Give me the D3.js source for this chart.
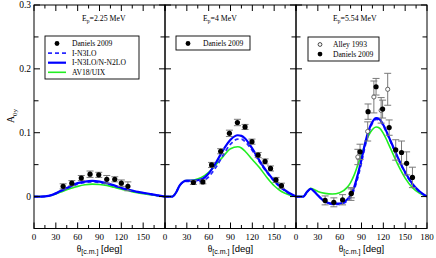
<!DOCTYPE html>
<html><head><meta charset="utf-8">
<script src="https://cdn.jsdelivr.net/npm/d3@7"></script>
<style>body{margin:0;background:#fff}svg{display:block}</style>
</head><body><svg id="c" width="436" height="258"></svg>
<script>
// ---------- data ----------
const energies = ["2.25", "4", "5.54"];
const xMajor = [0, 30, 60, 90, 120, 150, 180];
const xMinor = [15, 45, 75, 105, 135, 165];
const yMajor = [0, 0.1, 0.2, 0.3];
const yMinor = [-0.05, 0.05, 0.15, 0.25];
const yTickLabels = ["0", "0.1", "0.2", "0.3"];

// panel 1 (Ep = 2.25 MeV)
const grid1 = [0,10,20,30,40,50,60,70,80,90,100,110,120,130,140,150,160,170,180];
const blue1 = [0,0,0.001,0.005,0.011,0.016,0.021,0.0235,0.0245,0.0235,0.021,0.0175,0.0135,0.0105,0.008,0.006,0.004,0.002,0];
const dash1 = [0,0,0.001,0.005,0.010,0.015,0.0195,0.022,0.023,0.022,0.020,0.017,0.013,0.010,0.0075,0.0055,0.0035,0.0015,0];
const green1 = [0,0,0.001,0.004,0.0085,0.0125,0.016,0.0185,0.0195,0.019,0.0175,0.0145,0.0115,0.009,0.0065,0.0045,0.003,0.0015,0];
const danAng1 = [40,52,65,77,89,100,111,120,129];
const danVal1 = [0.016,0.021,0.029,0.035,0.034,0.027,0.027,0.021,0.016];
const danErr1 = [0.004,0.004,0.004,0.005,0.004,0.006,0.004,0.005,0.007];

// panel 2 (Ep = 4 MeV)
const grid2 = [0,10,15,20,25,30,35,40,50,60,70,80,90,100,105,110,120,130,140,150,160,170,180];
const blue2 = [0,0,0.006,0.017,0.023,0.025,0.025,0.025,0.027,0.036,0.053,0.073,0.089,0.096,0.095,0.091,0.075,0.056,0.039,0.025,0.014,0.006,0];
const dash2 = [0,0,0.006,0.017,0.023,0.024,0.024,0.023,0.024,0.031,0.046,0.065,0.082,0.090,0.090,0.086,0.072,0.054,0.038,0.024,0.013,0.005,0];
const green2 = [0,0,0.006,0.017,0.023,0.025,0.025,0.026,0.030,0.038,0.050,0.063,0.075,0.078,0.076,0.071,0.058,0.045,0.030,0.017,0.008,0.003,0];
const danAng2 = [39,52,64,76.5,88.5,99.5,110,119.5,128,137.5,145,152.5,160];
const danVal2 = [0.022,0.023,0.0495,0.071,0.099,0.116,0.109,0.086,0.065,0.055,0.044,0.026,0.017];
const danErr2 = [0.003,0.003,0.004,0.004,0.005,0.005,0.004,0.004,0.004,0.004,0.004,0.004,0.004];

// panel 3 (Ep = 5.54 MeV)
const grid3 = [0,10,15,20,25,30,40,50,60,70,75,80,85,90,95,100,105,110,115,120,130,140,150,160,170,180];
const blue3 = [0,0,0.007,0.012,0.008,0.002,-0.008,-0.011,-0.011,-0.005,0.002,0.015,0.035,0.058,0.084,0.104,0.117,0.123,0.121,0.112,0.087,0.061,0.038,0.020,0.008,0];
const dash3 = [0,0,0.007,0.012,0.008,0.002,-0.008,-0.012,-0.012,-0.007,-0.001,0.011,0.030,0.053,0.079,0.100,0.115,0.121,0.120,0.111,0.086,0.060,0.037,0.019,0.007,0];
const green3 = [0,0,0.007,0.013,0.011,0.008,0.005,0.004,0.006,0.014,0.022,0.034,0.050,0.066,0.082,0.096,0.105,0.109,0.107,0.099,0.075,0.050,0.029,0.014,0.005,0];
const danAng3 = [40,52,64,76,88,99,110,119,128,137,145,152,160];
const danVal3 = [-0.006,-0.009,-0.005,0.005,0.070,0.133,0.172,0.137,0.108,0.073,0.069,0.052,0.030];
const danErr3 = [0.007,0.007,0.008,0.007,0.012,0.012,0.013,0.014,0.012,0.016,0.018,0.018,0.016];
const alAng3 = [75.5,85,98.5,107,117,126];
const alVal3 = [0.004,0.062,0.102,0.156,0.135,0.168];
const alErr3 = [0.010,0.012,0.015,0.025,0.020,0.025];

// legends
const legend1 = ["Daniels 2009", "I-N3LO", "I-N3LO/N-N2LO", "AV18/UIX"];
const legend2 = ["Daniels 2009"];
const legend3 = ["Alley 1993", "Daniels 2009"];

// ---------- layout / style ----------
const W = 436, H = 258;
const panelLeft = [34, 165, 296], panelW = 131, plotTop = 5, plotBottom = 228.5;
const C_BLUE = "#0000ff", C_DASH = "#2a2aff", C_GREEN = "#22ee22", C_ERR = "#7a7a7a";
const serif = "'Liberation Serif','Times New Roman',serif";
const sans = "'Liberation Sans',Arial,sans-serif";

const svg = d3.select("#c");
svg.append("rect").attr("width", W).attr("height", H).attr("fill", "#fff");

const y = d3.scaleLinear().domain([-0.05, 0.3]).range([plotBottom, plotTop]);

const panels = [
  {grid: grid1, curves: [[green1, C_GREEN, null, 1.6], [dash1, C_DASH, "4,3", 1.8], [blue1, C_BLUE, null, 2.2]],
   dan: [danAng1, danVal1, danErr1], al: null, title: energies[0], titleDx: 48,
   legend: legend1, legBox: [11, 36, 94, 43]},
  {grid: grid2, curves: [[green2, C_GREEN, null, 1.6], [dash2, C_DASH, "4,3", 1.8], [blue2, C_BLUE, null, 2.2]],
   dan: [danAng2, danVal2, danErr2], al: null, title: energies[1], titleDx: 38,
   legend: legend2, legBox: [11, 36, 74, 14]},
  {grid: grid3, curves: [[green3, C_GREEN, null, 1.6], [dash3, C_DASH, "4,3", 1.8], [blue3, C_BLUE, null, 2.2]],
   dan: [danAng3, danVal3, danErr3], al: [alAng3, alVal3, alErr3], title: energies[2], titleDx: 37,
   legend: legend3, legBox: [12, 37, 71, 24]}
];

panels.forEach((p, i) => {
  const L = panelLeft[i];
  const x = d3.scaleLinear().domain([0, 180]).range([L, L + panelW]);
  const g = svg.append("g");
  const clipId = "clip" + i;
  svg.append("clipPath").attr("id", clipId).append("rect")
    .attr("x", L).attr("y", plotTop).attr("width", panelW).attr("height", plotBottom - plotTop);

  const pg = g.append("g").attr("clip-path", `url(#${clipId})`);
  p.curves.forEach(([vals, col, dash, w]) => {
    const line = d3.line().x((d, k) => x(p.grid[k])).y(d => y(d)).curve(d3.curveMonotoneX);
    pg.append("path").attr("d", line(vals)).attr("fill", "none")
      .attr("stroke", col).attr("stroke-width", w).attr("stroke-dasharray", dash);
  });

  const drawSet = (set, filled) => {
    const [ang, val, err] = set;
    ang.forEach((a, k) => {
      const cx = x(a), y1 = y(val[k] + err[k]), y2 = y(val[k] - err[k]);
      pg.append("line").attr("x1", cx).attr("x2", cx).attr("y1", y1).attr("y2", y2)
        .attr("stroke", C_ERR).attr("stroke-width", 1);
      [y1, y2].forEach(yy => pg.append("line").attr("x1", cx - 3.5).attr("x2", cx + 3.5)
        .attr("y1", yy).attr("y2", yy).attr("stroke", C_ERR).attr("stroke-width", 1));
    });
    ang.forEach((a, k) => {
      pg.append("circle").attr("cx", x(a)).attr("cy", y(val[k]))
        .attr("r", filled ? 2.6 : 2.1)
        .attr("fill", filled ? "#000" : "#fff")
        .attr("stroke", filled ? "#000" : "#555").attr("stroke-width", filled ? 0 : 0.9);
    });
  };
  if (p.al) drawSet(p.al, false);
  drawSet(p.dan, true);

  g.append("rect").attr("x", L).attr("y", plotTop).attr("width", panelW).attr("height", plotBottom - plotTop)
    .attr("fill", "none").attr("stroke", "#000").attr("stroke-width", 1);

  const tk = g.append("g").attr("stroke", "#000").attr("stroke-width", 1);
  xMajor.forEach(v => {
    tk.append("line").attr("x1", x(v)).attr("x2", x(v)).attr("y1", plotBottom).attr("y2", plotBottom - 6);
    tk.append("line").attr("x1", x(v)).attr("x2", x(v)).attr("y1", plotTop).attr("y2", plotTop + 6);
  });
  xMinor.forEach(v => {
    tk.append("line").attr("x1", x(v)).attr("x2", x(v)).attr("y1", plotBottom).attr("y2", plotBottom - 3.5);
    tk.append("line").attr("x1", x(v)).attr("x2", x(v)).attr("y1", plotTop).attr("y2", plotTop + 3.5);
  });
  yMajor.concat(yMinor).forEach((v, k) => {
    const len = k < yMajor.length ? 6 : 4.5;
    tk.append("line").attr("x1", L).attr("x2", L + len).attr("y1", y(v)).attr("y2", y(v));
    tk.append("line").attr("x1", L + panelW).attr("x2", L + panelW - len).attr("y1", y(v)).attr("y2", y(v));
  });

  const labs = i === 2 ? xMajor : xMajor.slice(0, 6);
  labs.forEach(v => {
    g.append("text").attr("x", x(v)).attr("y", 239.5).attr("text-anchor", "middle")
      .attr("font-family", serif).attr("font-size", 9).attr("fill", "#000").text(v);
  });

  const xt = g.append("text").attr("x", L + panelW / 2).attr("y", 251.5).attr("text-anchor", "middle")
    .attr("fill", "#000");
  xt.append("tspan").attr("font-family", serif).attr("font-size", 9.5).text("θ");
  xt.append("tspan").attr("font-family", sans).attr("font-size", 7).attr("dy", 2.5).text("[c.m.]");
  xt.append("tspan").attr("font-family", sans).attr("font-size", 9.5).attr("dy", -2.5).text(" [deg]");

  const tt = g.append("text").attr("x", L + p.titleDx).attr("y", 21).attr("font-family", serif)
    .attr("font-size", 7.8).attr("fill", "#000");
  tt.append("tspan").text("E");
  tt.append("tspan").attr("font-size", 5.5).attr("dy", 2).text("p");
  tt.append("tspan").attr("dy", -2).text("=" + p.title + " MeV");

  const [bx, by, bw, bh] = p.legBox;
  const lg = g.append("g").attr("transform", `translate(${L + bx},${by})`);
  lg.append("rect").attr("x", 0).attr("y", 0).attr("width", bw).attr("height", bh)
    .attr("fill", "#fff").attr("stroke", "#000").attr("stroke-width", 0.9);
  p.legend.forEach((name, k) => {
    const ry = 7.5 + k * 9.6;
    const sx = 12;
    if (name === "Daniels 2009") {
      lg.append("circle").attr("cx", sx).attr("cy", ry).attr("r", 2.4).attr("fill", "#000");
    } else if (name === "Alley 1993") {
      lg.append("circle").attr("cx", sx).attr("cy", ry).attr("r", 1.9).attr("fill", "#fff")
        .attr("stroke", "#333").attr("stroke-width", 0.9);
    } else {
      const st = name === "I-N3LO" ? [C_DASH, "4,3", 1.8] : name === "AV18/UIX" ? [C_GREEN, null, 1.6] : [C_BLUE, null, 2.2];
      lg.append("line").attr("x1", 3).attr("x2", 21).attr("y1", ry).attr("y2", ry)
        .attr("stroke", st[0]).attr("stroke-dasharray", st[1]).attr("stroke-width", st[2]);
    }
    lg.append("text").attr("x", i === 2 ? 25 : 27).attr("y", ry + 2.6)
      .attr("font-family", serif).attr("font-size", 7.6).attr("fill", "#000").text(name);
  });
});

yMajor.forEach((v, k) => {
  svg.append("text").attr("x", 31).attr("y", y(v) + 3.3).attr("text-anchor", "end")
    .attr("font-family", serif).attr("font-size", 9.5).attr("fill", "#000").text(yTickLabels[k]);
});

const yt = svg.append("text").attr("transform", `translate(14,116) rotate(-90)`)
  .attr("text-anchor", "middle").attr("font-family", serif).attr("font-size", 10).attr("fill", "#000");
yt.append("tspan").text("A");
yt.append("tspan").attr("font-size", 7).attr("dy", 2.5).text("0y");
</script></body></html>
